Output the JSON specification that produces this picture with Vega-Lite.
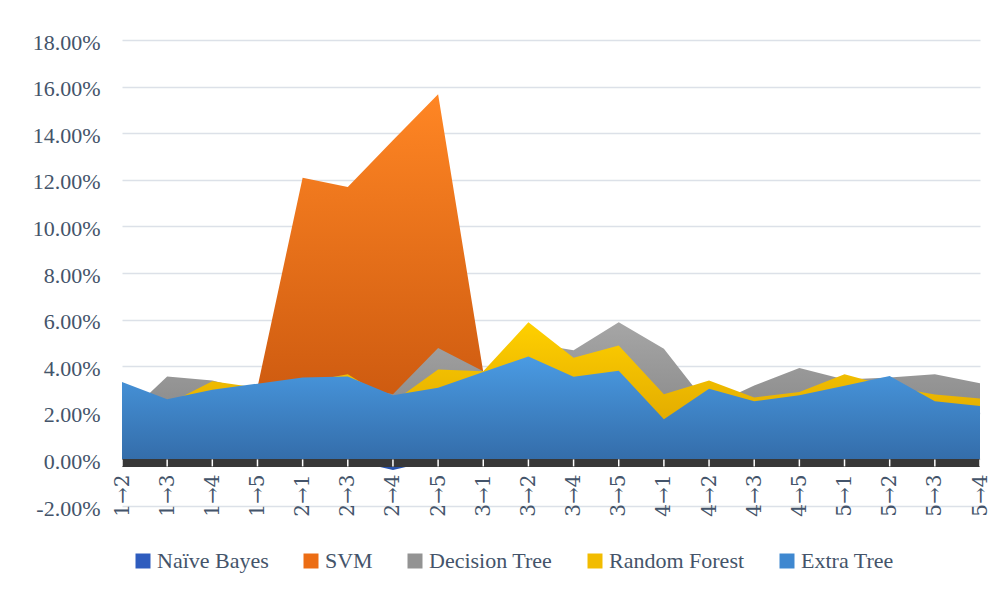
{
  "$schema": "https://vega.github.io/schema/vega-lite/v6.json",
  "width": 858,
  "height": 466,
  "autosize": {"type": "none"},
  "padding": {"left": 122, "top": 40, "right": 18, "bottom": 89},
  "background": "white",
  "config": {
    "font": "Liberation Serif",
    "view": {"stroke": null},
    "axis": {"labelFont": "Liberation Serif", "labelFontSize": 22, "labelColor": "#44546A"},
    "legend": {"labelFont": "Liberation Serif", "labelFontSize": 22, "labelColor": "#44546A"}
  },
  "data": {
    "values": [
      {"pair": "1→2", "NB": 0, "SVM": 0.029, "DT": 0.0172, "RF": 0.029, "ET": 0.0332},
      {"pair": "1→3", "NB": 0, "SVM": 0.023, "DT": 0.0356, "RF": 0.0237, "ET": 0.0258},
      {"pair": "1→4", "NB": 0, "SVM": 0.027, "DT": 0.0339, "RF": 0.0335, "ET": 0.0299},
      {"pair": "1→5", "NB": 0, "SVM": 0.031, "DT": 0.029, "RF": 0.0308, "ET": 0.0325},
      {"pair": "2→1", "NB": 0, "SVM": 0.1209, "DT": 0.03, "RF": 0.033, "ET": 0.0351},
      {"pair": "2→3", "NB": 0, "SVM": 0.1169, "DT": 0.032, "RF": 0.0365, "ET": 0.0356},
      {"pair": "2→4", "NB": -0.0045, "SVM": 0.137, "DT": 0.028, "RF": 0.0246, "ET": 0.0275},
      {"pair": "2→5", "NB": 0, "SVM": 0.1567, "DT": 0.0478, "RF": 0.0386, "ET": 0.0308},
      {"pair": "3→1", "NB": 0, "SVM": 0.0375, "DT": 0.0378, "RF": 0.0378, "ET": 0.0375},
      {"pair": "3→2", "NB": 0, "SVM": 0.03, "DT": 0.0501, "RF": 0.0589, "ET": 0.0442},
      {"pair": "3→4", "NB": 0, "SVM": 0.03, "DT": 0.0468, "RF": 0.0436, "ET": 0.0355},
      {"pair": "3→5", "NB": 0, "SVM": 0.032, "DT": 0.0589, "RF": 0.0489, "ET": 0.0381},
      {"pair": "4→1", "NB": 0, "SVM": 0.015, "DT": 0.0475, "RF": 0.028, "ET": 0.0172},
      {"pair": "4→2", "NB": 0, "SVM": 0.026, "DT": 0.0227, "RF": 0.0339, "ET": 0.0303},
      {"pair": "4→3", "NB": 0, "SVM": 0.023, "DT": 0.0317, "RF": 0.0266, "ET": 0.025},
      {"pair": "4→5", "NB": 0, "SVM": 0.025, "DT": 0.0392, "RF": 0.0289, "ET": 0.0275},
      {"pair": "5→1", "NB": 0, "SVM": 0.029, "DT": 0.0343, "RF": 0.0365, "ET": 0.0316},
      {"pair": "5→2", "NB": 0, "SVM": 0.031, "DT": 0.0351, "RF": 0.0313, "ET": 0.0358},
      {"pair": "5→3", "NB": 0, "SVM": 0.022, "DT": 0.0365, "RF": 0.0279, "ET": 0.025},
      {"pair": "5→4", "NB": 0, "SVM": 0.02, "DT": 0.0327, "RF": 0.0261, "ET": 0.0229}
    ]
  },
  "layer": [
    {
      "mark": {"type": "area", "fill": {"gradient": "linear", "x1": 0, "y1": 0, "x2": 0, "y2": 1, "stops": [{"offset": 0, "color": "#3466C8"}, {"offset": 1, "color": "#2650A8"}]}},
      "encoding": {
        "x": {"field": "pair", "type": "nominal", "sort": null, "scale": {"type": "point", "padding": 0},
              "axis": {"title": null, "labelAngle": -90, "offset": -47, "domain": false, "ticks": false, "tickSize": 0, "grid": false, "labelPadding": 15, "labelFont": "DejaVu Serif", "labelFontSize": 20}},
        "y": {"field": "NB", "type": "quantitative", "scale": {"domain": [-0.02, 0.18], "nice": false, "zero": false},
              "axis": {"title": null, "values": [-0.02, 0, 0.02, 0.04, 0.06, 0.08, 0.1, 0.12, 0.14, 0.16, 0.18], "labelExpr": "replace(format(datum.value, '.2%'), '−', '-')", "grid": true, "gridColor": "#DCE1E8", "gridWidth": 1.3, "domain": false, "ticks": false, "tickSize": 0, "labelPadding": 22, "labelOffset": 2}}
      }
    },
    {
      "mark": {"type": "area", "fill": {"gradient": "linear", "x1": 0, "y1": 0, "x2": 0, "y2": 1, "stops": [{"offset": 0, "color": "#FF8624"}, {"offset": 1, "color": "#C4520C"}]}},
      "encoding": {
        "x": {"field": "pair", "type": "nominal", "sort": null, "scale": {"type": "point", "padding": 0}},
        "y": {"field": "SVM", "type": "quantitative", "scale": {"domain": [-0.02, 0.18], "nice": false, "zero": false}}
      }
    },
    {
      "mark": {"type": "area", "fill": {"gradient": "linear", "x1": 0, "y1": 0, "x2": 0, "y2": 1, "stops": [{"offset": 0, "color": "#A6A6A6"}, {"offset": 1, "color": "#7E7E7E"}]}},
      "encoding": {
        "x": {"field": "pair", "type": "nominal", "sort": null, "scale": {"type": "point", "padding": 0}},
        "y": {"field": "DT", "type": "quantitative", "scale": {"domain": [-0.02, 0.18], "nice": false, "zero": false}}
      }
    },
    {
      "mark": {"type": "area", "fill": {"gradient": "linear", "x1": 0, "y1": 0, "x2": 0, "y2": 1, "stops": [{"offset": 0, "color": "#FFD000"}, {"offset": 1, "color": "#D89E00"}]}},
      "encoding": {
        "x": {"field": "pair", "type": "nominal", "sort": null, "scale": {"type": "point", "padding": 0}},
        "y": {"field": "RF", "type": "quantitative", "scale": {"domain": [-0.02, 0.18], "nice": false, "zero": false}}
      }
    },
    {
      "mark": {"type": "area", "fill": {"gradient": "linear", "x1": 0, "y1": 0, "x2": 0, "y2": 1, "stops": [{"offset": 0, "color": "#4A9BE3"}, {"offset": 1, "color": "#346DAA"}]}},
      "encoding": {
        "x": {"field": "pair", "type": "nominal", "sort": null, "scale": {"type": "point", "padding": 0}},
        "y": {"field": "ET", "type": "quantitative", "scale": {"domain": [-0.02, 0.18], "nice": false, "zero": false}}
      }
    },
    {
      "mark": {"type": "rule", "color": "#383838", "strokeWidth": 7},
      "encoding": {
        "y": {"datum": -0.0015, "type": "quantitative", "scale": {"domain": [-0.02, 0.18], "nice": false, "zero": false}}
      }
    },
    {
      "mark": {"type": "rule", "color": "#FFFFFF", "strokeWidth": 1.5},
      "encoding": {
        "x": {"field": "pair", "type": "nominal", "sort": null, "scale": {"type": "point", "padding": 0}},
        "y": {"datum": 0, "type": "quantitative"},
        "y2": {"datum": -0.003}
      }
    },
    {
      "transform": [{"filter": "false"}],
      "mark": {"type": "square"},
      "encoding": {
        "color": {
          "field": "series", "type": "nominal",
          "scale": {"domain": ["Naïve Bayes", "SVM", "Decision Tree", "Random Forest", "Extra Tree"],
                    "range": ["#2E5CBE", "#EC6D14", "#939393", "#F2BC00", "#3F88D0"]},
          "legend": {"title": null, "orient": "none", "legendX": 10, "legendY": 510, "direction": "horizontal",
                     "symbolType": "square", "symbolSize": 225, "symbolStrokeWidth": 0, "symbolOpacity": 1,
                     "columnPadding": 31, "labelOffset": 3, "padding": 0}
        }
      }
    }
  ]
}
